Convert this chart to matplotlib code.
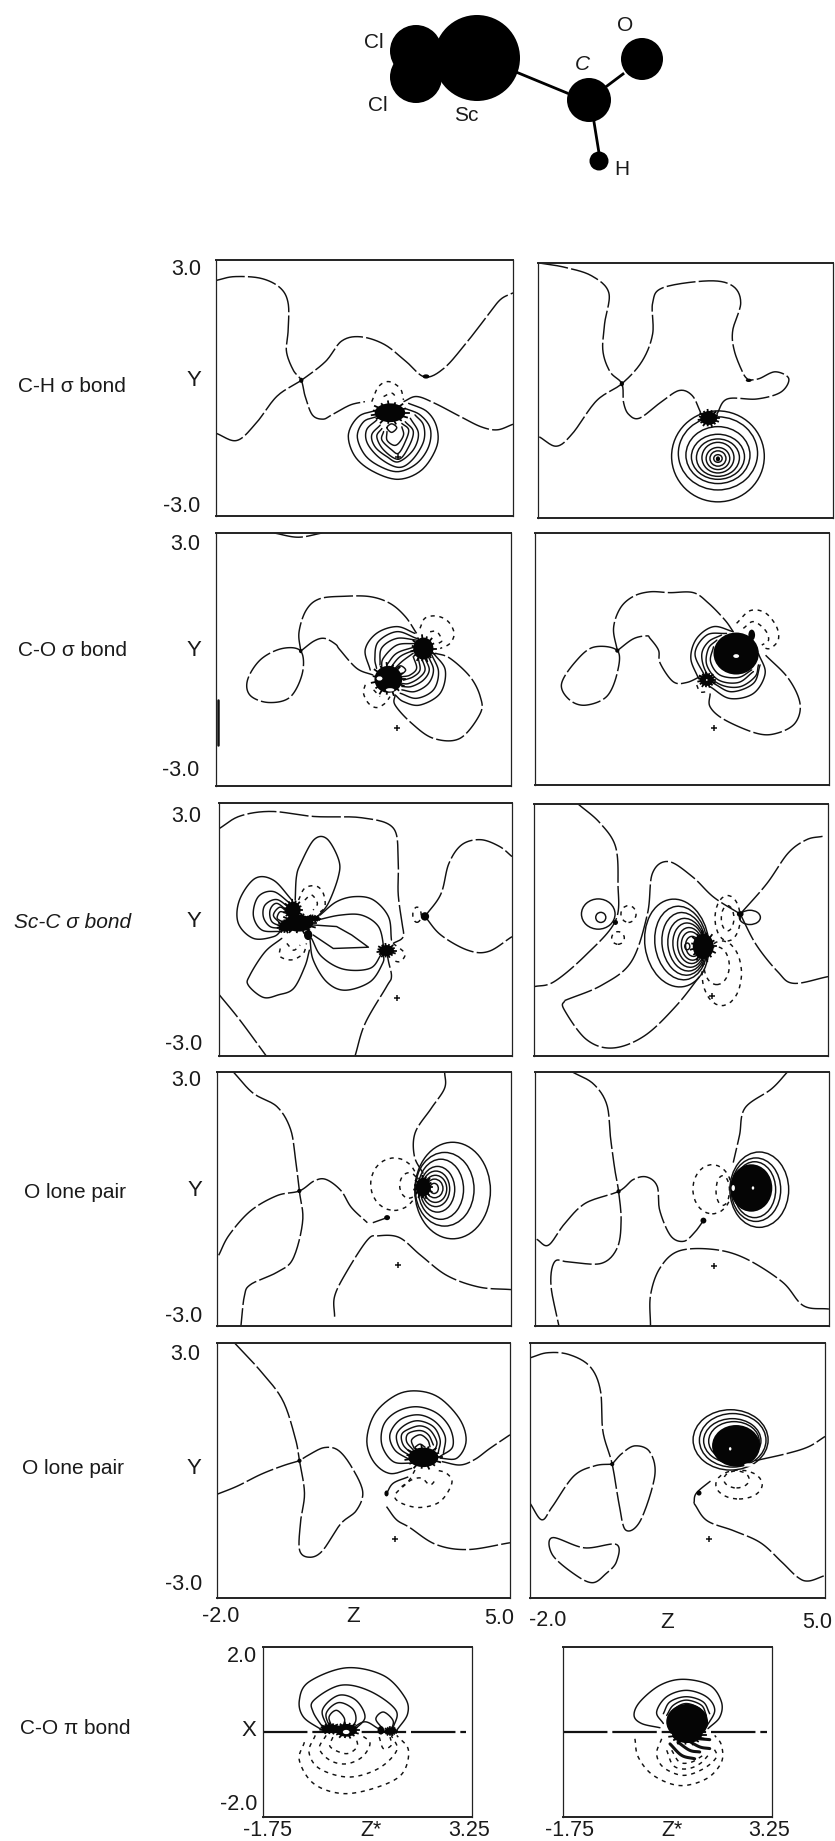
import numpy as np
import matplotlib
matplotlib.use("Agg")
import matplotlib.pyplot as plt
from matplotlib.patches import Ellipse

plt.rcParams['font.family'] = ['Liberation Sans', 'DejaVu Sans']

# ---------- values (z, y in chart units) ----------
# Rings are (z centre, y centre, semi-axis z, semi-axis y[, tilt in degrees]); blobs are (z, y, half z, half y)
A_NODAL = [
 [(-2,2.52),(-1.57,2.61),(-.94,2.57),(-.49,2.35),(-.30,1.99),(-.30,1.35),(-.34,.86),(-.18,.42),(.01,.18),(.10,-.19),(.27,-.63),(.52,-.73),(.73,-.63),(1.16,-.40),(1.51,-.32)],
 [(2.42,-.32),(2.73,-.20),(3.16,-.36),(3.76,-.67),(4.25,-.91),(4.63,-.98),(5,-.85)],
 [(-2,-1.06),(-1.51,-1.23),(-1.06,-.83),(-.56,-.19),(.01,.18),(.58,.62),(.96,1.10),(1.41,1.20),(1.97,1.02),(2.48,.62),(2.92,.26),(3.37,.46),(3.87,1.02),(4.38,1.67),(4.70,2.07),(5,2.23)],
]
A_SOLID = [
 [(1.79,-.52),(1.36,-.67),(1.12,-1.10),(1.28,-1.61),(1.71,-1.96),(2.30,-2.14),(2.85,-1.92),(3.20,-1.38),(3.20,-.91),(2.97,-.55),(2.54,-.36)],
 [(1.79,-.67),(1.48,-.79),(1.33,-1.14),(1.51,-1.57),(1.87,-1.84),(2.30,-1.96),(2.73,-1.77),(3.01,-1.38),(3.05,-.95),(2.81,-.63),(2.46,-.48)],
 [(1.79,-.75),(1.55,-.98),(1.57,-1.30),(1.87,-1.65),(2.30,-1.86),(2.62,-1.69),(2.89,-1.26),(2.89,-.87),(2.69,-.63)],
 [(1.87,-.87),(1.67,-1.10),(1.75,-1.38),(2.03,-1.61),(2.30,-1.73),(2.65,-1.45),(2.77,-1.06),(2.58,-.71)],
 [(1.91,-.95),(1.79,-1.14),(1.95,-1.45),(2.30,-1.67),(2.54,-1.38),(2.65,-1.02),(2.46,-.79)],
 [(1.95,-1.02),(1.91,-1.22),(2.14,-1.45),(2.30,-1.53),(2.46,-1.26),(2.54,-.98),(2.38,-.83)],
 [(2.03,-1.02),(2.03,-1.22),(2.18,-1.34),(2.30,-1.30),(2.42,-1.10),(2.38,-.91)],
 [(2.03,-.93),(2.14,-.84),(2.26,-.93),(2.14,-1.04),(2.03,-.93)],
]
A_DOTTED = [
 [(1.67,-.32),(1.83,.03),(2.07,.15),(2.34,-.01),(2.42,-.28)],
 [(1.95,-.2),(2.14,-.12),(2.26,-.24)],
]
A_POS = []
A_NEG = []
A_BLOB = [(2.10,-.58,.36,.22),(.01,.18,.05,.06),(2.95,.27,.08,.05)]
A_PLUS = [(2.30,-1.61)]

B_NODAL = [
 [(-1.97,3),(-1.37,2.90),(-.73,2.70),(-.32,2.30),(-.42,1.57),(-.46,.93),(-.29,.44),(-.01,.16),(.03,-.28),(.15,-.56),(.41,-.65),(.91,-.28),(1.35,0),(1.66,-.12),(1.86,-.52)],
 [(2.24,-.56),(2.49,-.20),(3.19,-.20),(3.76,-.04),(3.95,.28),(3.63,.44),(3.25,.28),(3.0,.24)],
 [(-1.97,-1.09),(-1.56,-1.31),(-1.18,-1.01),(-.61,-.24),(-.01,.16),(.47,.69),(.72,1.33),(.72,2.06),(.97,2.42),(2.05,2.58),(2.62,2.46),(2.81,2.06),(2.62,1.41),(2.66,.93),(2.87,.40),(3.0,.24)],
]
B_POS = [(2.27,-1.55,1.10,1.07),(2.27,-1.48,.94,.86),(2.27,-1.52,.76,.67),(2.27,-1.56,.63,.53),(2.27,-1.58,.51,.44),(2.27,-1.58,.38,.36),(2.27,-1.60,.28,.26),(2.27,-1.60,.19,.18),(2.27,-1.60,.10,.09)]
B_NEG = []
B_BLOB = [(2.05,-.65,.2,.16),(-.01,.16,.05,.06),(3.0,.24,.07,.04),(2.27,-1.61,.05,.06)]
B_PLUS = []

C_NODAL = [
 [(.01,.20),(-.03,.65),(.14,1.17),(.46,1.44),(1.06,1.50),(1.66,1.49),(2.13,1.33),(2.49,1.02),(2.76,.62)],
 [(.01,.20),(-.43,.26),(-.94,0),(-1.25,-.48),(-1.19,-.85),(-.75,-1.02),(-.24,-.89),(.05,-.32),(.01,.20)],
 [(.01,.20),(.33,.44),(.58,.50),(.84,.36),(.94,.23),(1.34,-.21),(1.73,-.37)],
 [(2.25,-.84),(2.25,-1.08),(2.64,-1.51),(3.16,-1.87),(3.79,-1.87),(4.27,-1.28),(4.27,-.88),(4.03,-.41),(3.55,.03),(3.2,.15)],
 [(-.62,3),(-.05,2.90),(.52,3)],
]
C_SOLID = [
 [(2.72,.62),(2.29,.78),(1.81,.62),(1.54,.23),(1.66,-.25)],
 [(2.76,.50),(2.29,.66),(1.85,.42),(1.77,.03),(1.81,-.21)],
 [(2.76,.46),(2.29,.50),(1.93,.27),(1.89,-.13)],
 [(2.72,.38),(2.29,.34),(1.97,.03),(1.93,-.21)],
 [(2.72,.30),(2.29,.15),(2.05,-.13)],
 [(2.72,.23),(2.37,.07),(2.13,-.21)],
 [(2.68,.15),(2.41,-.05),(2.21,-.25)],
 [(3.16,.15),(3.44,-.25),(3.32,-.80),(2.84,-1.08),(2.45,-1.0),(2.25,-.84)],
 [(3.12,.11),(3.28,-.29),(3.16,-.72),(2.76,-.92),(2.37,-.80)],
 [(3.04,.07),(3.16,-.25),(3.04,-.57),(2.72,-.76),(2.41,-.72)],
 [(2.96,.03),(3.06,-.25),(2.92,-.49),(2.64,-.64),(2.41,-.64)],
 [(2.88,.03),(2.96,-.25),(2.80,-.45),(2.57,-.57),(2.41,-.57)],
 [(2.80,.03),(2.84,-.25),(2.68,-.41),(2.45,-.49)],
 [(2.68,.07),(2.76,-.21),(2.60,-.37),(2.41,-.41)],
 [(2.26,-.25),(2.38,-.15),(2.50,-.25),(2.38,-.35),(2.26,-.25)],
]
C_DOTTED = [
 [(2.84,.74),(2.96,.98),(3.24,1.03),(3.51,.90),(3.65,.62),(3.55,.38),(3.32,.26)],
 [(3.08,.66),(3.24,.66),(3.36,.46),(3.28,.38)],
 [(1.54,-.6),(1.50,-.80),(1.62,-1.04),(1.81,-1.14),(2.01,-1.04),(2.13,-.88)],
 [(1.74,-.72),(1.89,-.88)],
]
C_POS = []
C_NEG = []
C_BLOB = [(2.92,.26,.24,.26),(2.09,-.47,.33,.32),(.01,.20,.04,.05)]
C_PLUS = [(2.29,-1.63)]
C_THICK = [[(-1.95,-.97),(-1.95,-2.02)]]
C_HOLE = [(1.88,-.45,.07,.05),(2.13,-.72,.1,.04)]

D_NODAL = [
 [(-.04,.20),(-.13,.73),(.03,1.21),(.34,1.49),(.74,1.60),(1.21,1.58),(1.77,1.58),(2.13,1.33),(2.52,.93),(2.72,.65)],
 [(-.04,.20),(-.61,.28),(-1.05,-.08),(-1.37,-.60),(-1.18,-.97),(-.80,-1.10),(-.29,-.89),(-.04,-.32),(-.04,.20)],
 [(-.04,.20),(.34,.48),(.66,.55),(.74,.49),(.94,.21),(.98,-.10),(1.29,-.54),(1.61,-.56),(1.97,-.40)],
 [(2.17,-.82),(2.17,-1.14),(2.52,-1.45),(3.28,-1.77),(3.75,-1.77),(4.19,-1.53),(4.31,-1.06),(4.03,-.46),(3.48,.10)],
]
D_SOLID = [
 [(2.72,.65),(2.25,.77),(1.85,.49),(1.71,.02),(1.89,-.46)],
 [(2.17,-.66),(2.64,-.94),(3.20,-.82),(3.48,-.34),(3.32,.13)],
 [(2.56,.61),(2.09,.57),(1.81,.13),(2.05,-.42)],
 [(2.25,-.58),(2.68,-.78),(3.20,-.58),(3.36,-.14)],
 [(2.44,.57),(2.13,.41),(1.97,.10),(2.09,-.34),(2.44,-.62),(2.88,-.66),(3.24,-.42),(3.32,-.14)],
 [(2.33,.45),(2.13,.25),(2.09,-.14),(2.37,-.50),(2.84,-.56),(3.20,-.30)],
 [(2.25,.29),(2.18,-.06),(2.40,-.38),(2.84,-.44),(3.16,-.26)],
]
D_DOTTED = [
 [(2.80,.85),(3.12,1.15),(3.48,1.10),(3.75,.77),(3.79,.45),(3.59,.25),(3.40,.29)],
 [(2.96,.73),(3.20,.89),(3.48,.69),(3.56,.45),(3.40,.33)],
 [(1.85,-.62),(1.93,-.78),(2.09,-.78)],
]
D_POS = []
D_NEG = []
D_BLOB = [(2.79,.13,.54,.50),(2.09,-.50,.17,.14),(3.16,.57,.08,.13),(-.04,.20,.05,.05)]
D_PLUS = [(2.26,-1.65)]
D_HOLE = [(2.79,.07,.07,.045),(2.09,-.50,.02,.02)]

E_NODAL = [
 [(-2,2.39),(-1.5,2.69),(-.75,2.80),(.27,2.68),(1.41,2.65),(2.16,2.41),(2.28,1.65),(2.28,.86),(2.36,.22),(2.40,-.17),(2.16,-.33)],
 [(2.92,.31),(3.30,.84),(3.49,1.56),(3.80,2.01),(4.25,2.13),(4.70,1.97),(5,1.73)],
 [(2.92,.31),(3.30,-.13),(3.94,-.49),(4.44,-.52),(5,-.17)],
 [(-2,-1.54),(-1.5,-2.15),(-.87,-3)],
 [(1.25,-3),(1.49,-2.23),(2.0,-1.36),(2.12,-1.12),(2.05,-.76),(2.0,-.5)],
]
E_SOLID = [
 [(-.18,.70),(-.15,1.25),(-.05,1.56),(.27,2.13),(.58,2.15),(.86,1.65),(.85,1.25),(.61,.62),(.35,.3)],
 [(-.26,.70),(-.70,1.17),(-1.14,1.21),(-1.51,.70),(-1.54,.15),(-1.18,-.21),(-.70,-.17),(-.50,-.01)],
 [(-.30,.62),(-.70,.90),(-1.06,.78),(-1.18,.34),(-.98,-.01),(-.54,-.05)],
 [(-.30,.50),(-.62,.71),(-.90,.58),(-.94,.30),(-.78,.07),(-.50,.03)],
 [(-.34,.42),(-.62,.62),(-.78,.46),(-.74,.19),(-.50,.07)],
 [(-.34,.38),(-.54,.53),(-.70,.34),(-.54,.15)],
 [(-.38,.38),(-.54,.42),(-.61,.27),(-.50,.19)],
 [(.41,.34),(.81,.66),(1.25,.78),(1.69,.70),(2.05,.30),(2.12,-.25)],
 [(.33,.22),(.89,.34),(1.41,.34),(1.81,.07),(1.93,-.41),(1.89,-.49)],
 [(.21,-.21),(.45,-.64),(.97,-.94),(1.61,-.92),(1.89,-.57)],
 [(.17,-.21),(.25,-.72),(.57,-1.24),(1.01,-1.44),(1.61,-1.24),(1.91,-.80),(1.93,-.60)],
 [(-.50,-.21),(-.90,-.53),(-1.26,-1.08),(-1.30,-1.32),(-.94,-1.61),(-.58,-1.55),(-.22,-1.40),(.05,-.88),(.16,-.49)],
]
E_STRAIGHT = [[(.21,.11),(.81,.07),(1.17,-.13),(1.57,-.42),(.73,-.45),(.25,-.13)]]
E_DOTTED = [
 [(-.10,.70),(.05,.98),(.32,1.03),(.49,.86),(.53,.54),(.37,.38)],
 [(.05,.70),(.21,.82),(.35,.62),(.25,.46)],
 [(-.54,-.45),(-.54,-.64),(-.26,-.72),(.01,-.57),(.09,-.33)],
 [(-.38,-.33),(-.22,-.49),(-.06,-.37)],
 [(2.16,-.33),(2.44,-.57),(2.32,-.76),(2.12,-.72)],
]
E_POS = []
E_NEG = [(2.73,.35,.1,.18)]
E_BLOB = [(-.23,.46,.18,.2),(-.10,.15,.35,.2),(-.42,.07,.15,.12),(.13,-.13,.1,.12),(.25,.26,.13,.06),(2.0,-.50,.18,.13),(2.92,.31,.1,.1)]
E_PLUS = [(2.26,-1.63)]

F_NODAL = [
 [(-.95,3),(-.44,2.56),(-.06,1.99),(0,1.10),(-.06,.22),(-.76,-.59),(-1.52,-1.23),(-2,-1.35)],
 [(-1.27,-1.68),(-.38,-1.31),(.32,-.75),(.70,.38),(.82,1.35),(1.20,1.63),(1.77,1.27),(2.28,.78),(2.91,.38)],
 [(-1.27,-1.68),(-1.29,-1.88),(-.76,-2.60),(-.13,-2.81),(.63,-2.52),(1.39,-1.80),(2.03,-.99)],
 [(2.91,.38),(3.54,1.10),(4.05,1.83),(4.49,2.15),(4.87,2.23)],
 [(2.91,.38),(3.29,-.35),(3.80,-.99),(4.18,-1.27),(5,-1.11)],
]
F_POS = [(1.40,-.31,.76,1.05,8),(1.50,-.31,.62,.88,8),(1.57,-.33,.52,.75,8),(1.63,-.35,.44,.63,8),(1.68,-.36,.37,.53,8),(1.72,-.37,.30,.43,8),(1.75,-.38,.24,.34,8),(1.78,-.39,.17,.24,8),(1.65,-.39,.06,.08),
         (-.47,.38,.40,.36),(-.41,.30,.12,.12),(3.14,.30,.25,.17)]
F_NEG = [(2.61,.28,.3,.54),(2.61,.28,.15,.3),(2.47,-1.03,.47,.77),(2.35,-.85,.3,.45),(.25,.38,.18,.2),(0,-.19,.15,.15)]
F_BLOB = [(2.03,-.39,.25,.3),(2.91,.38,.08,.07),(-.06,.18,.06,.06)]
F_PLUS = [(2.24,-1.56)]

G_NODAL = [
 [(-1.61,3),(-1.14,2.50),(-.57,2.18),(-.25,1.65),(-.13,.93),(-.04,.19),(.04,-.52),(-.19,-1.41),(-.57,-1.73),(-1.20,-2.02),(-1.35,-2.30),(-1.43,-3)],
 [(-1.96,-1.33),(-1.71,-.85),(-1.20,-.28),(-.57,.08),(-.04,.19),(.32,.43),(.60,.46),(.95,.20),(1.20,-.20),(1.58,-.56)],
 [(1.71,-.56),(2.05,-.44)],
 [(3.42,3),(3.42,2.62),(3.10,2.14),(2.72,1.57),(2.70,1.01),(2.91,.60)],
 [(.80,-2.78),(.80,-2.30),(1.08,-1.73),(1.58,-.97),(1.84,-.87),(2.34,-.91),(2.85,-1.33),(3.48,-1.81),(4.24,-2.08),(5,-2.14)],
]
G_POS = [(3.61,.20,.90,1.14),(3.42,.23,.70,.87),(3.33,.23,.54,.71),(3.25,.23,.41,.54),(3.21,.24,.33,.42),(3.20,.24,.27,.32),(3.18,.25,.20,.22),(3.17,.25,.10,.12)]
G_NEG = [(2.22,.35,.56,.62),(2.57,.32,.22,.30)]
G_BLOB = [(2.91,.28,.18,.22),(2.05,-.44,.07,.06),(-.04,.19,.05,.05)]
G_PLUS = [(2.30,-1.57)]

H_NODAL = [
 [(-1.11,3),(-.61,2.72),(-.29,2.23),(-.20,1.43),(-.10,.70),(-.01,.18),(.05,-.51),(-.04,-1.15),(-.42,-1.52),(-1.18,-1.49),(-1.53,-1.48),(-1.62,-2.04),(-1.43,-3)],
 [(-1.96,-.95),(-1.68,-1.09),(-1.30,-.59),(-.80,-.10),(-.01,.18),(.34,.46),(.66,.52),(.91,.30),(.97,-.27),(1.23,-.87),(1.54,-1.0),(1.80,-.79),(2.01,-.51)],
 [(4.01,3),(3.63,2.60),(3.0,2.15),(2.87,1.51),(2.72,.86)],
 [(.75,-3),(.75,-2.28),(.97,-1.64),(1.42,-1.23),(2.24,-1.19),(3.0,-1.40),(3.89,-1.96),(4.39,-2.52),(5,-2.60)],
]
H_POS = [(3.34,.22,.70,.89),(3.26,.22,.59,.75),(3.23,.22,.5,.66)]
H_NEG = [(2.22,.23,.46,.58),(2.47,.20,.16,.35)]
H_BLOB = [(3.15,.26,.5,.56),(2.01,-.51,.07,.07),(-.01,.18,.05,.05)]
H_PLUS = [(2.27,-1.58)]
H_HOLE = [(3.19,.26,.03,.04),(2.72,.26,.04,.07)]

I_NODAL = [
 [(-1.58,3),(-.95,2.33),(-.43,1.65),(-.13,.76),(-.03,.23),(.09,-.53),(0,-1.18),(-.03,-1.86),(.19,-2.04),(.51,-1.90),(.95,-1.26),(1.33,-.94),(1.48,-.49),(1.20,.11),(.89,.48),(.57,.54),(.25,.40),(-.03,.23)],
 [(-2,-.56),(-1.52,-.37),(-.95,-.09),(-.43,.11),(-.03,.23)],
 [(2.57,-.15),(2.21,-.30),(2.05,-.54)],
 [(2.05,-.85),(2.29,-1.16),(2.60,-1.34),(3.23,-1.74),(3.99,-1.86),(5,-1.70)],
 [(3.37,.21),(3.81,.13),(4.16,.26),(4.52,.52),(5,.84)],
]
I_SOLID = [
 [(2.65,.05),(2.13,-.07),(1.74,.21),(1.58,.72),(1.78,1.35),(2.29,1.78),(2.81,1.87),(3.33,1.70),(3.81,1.19),(3.95,.68),(3.73,.29),(3.33,.29)],
 [(2.65,.17),(2.21,.21),(1.94,.60),(1.98,1.07),(2.29,1.38),(2.77,1.50),(3.25,1.35),(3.57,.99),(3.63,.56),(3.33,.33)],
 [(2.61,.25),(2.25,.48),(2.13,.84),(2.37,1.19),(2.81,1.31),(3.21,1.15),(3.45,.80),(3.41,.40)],
 [(2.65,.33),(2.37,.52),(2.29,.84),(2.49,1.07),(2.81,1.17),(3.17,1.03),(3.33,.72),(3.29,.44)],
 [(2.65,.40),(2.45,.60),(2.41,.84),(2.57,.97),(2.85,1.05),(3.09,.95),(3.25,.68),(3.21,.48)],
 [(2.69,.48),(2.53,.68),(2.57,.87),(2.85,.94),(3.05,.84),(3.17,.60)],
 [(2.71,.52),(2.65,.72),(2.85,.84),(3.03,.72),(3.09,.56)],
 [(2.73,.55),(2.85,.62),(2.97,.55)],
]
I_DOTTED = [
 [(2.73,.01),(2.57,-.26),(2.25,-.58),(2.41,-.77),(2.85,-.87),(3.33,-.73),(3.61,-.30),(3.49,-.07),(3.25,.01)],
 [(2.41,-.38),(2.65,-.22),(2.89,-.18),(3.09,-.34),(3.25,-.18)],
]
I_POS = []
I_NEG = []
I_BLOB = [(2.93,.31,.36,.23),(2.05,-.54,.05,.07),(-.03,.23,.05,.05)]
I_PLUS = [(2.25,-1.60)]

J_NODAL = [
 [(-2,2.65),(-1.59,2.77),(-1.08,2.73),(-.58,2.45),(-.33,1.89),(-.27,.92),(-.05,.15),(.11,-.77),(.27,-1.40),(.62,-1.18),(.96,-.13),(.84,.44),(.49,.58),(.18,.40),(-.05,.15)],
 [(-2,-.77),(-1.72,-1.16),(-1.47,-.85),(-.96,-.13),(-.46,.11),(-.05,.15)],
 [(-1.47,-1.58),(-.71,-1.82),(.05,-1.74),(.05,-2.15),(-.20,-2.43),(-.52,-2.64),(-.96,-2.43),(-1.47,-1.98),(-1.47,-1.58)],
 [(1.89,-.77),(2.20,-1.18),(2.84,-1.42),(3.47,-1.70),(3.97,-2.15),(4.35,-2.51),(4.61,-2.60),(5,-2.47)],
 [(1.89,-.77),(1.95,-.53),(2.33,-.21)],
 [(3.34,.23),(4.10,.40),(4.61,.56),(5,.80)],
]
J_POS = [(2.76,.72,.89,.71),(2.81,.71,.79,.63),(2.80,.70,.68,.52),(2.84,.69,.60,.46)]
J_NEG = [(2.96,-.33,.55,.34),(2.90,-.21,.3,.2)]
J_BLOB = [(2.89,.58,.57,.49),(2.01,-.53,.06,.06),(-.05,.15,.05,.05)]
J_PLUS = [(2.24,-1.60)]
J_HOLE = [(2.75,.51,.03,.04),(3.2,.13,.12,.04)]

K_NODAL = [[(-1.75,0),(3.11,0)]]
K_SOLID = [
 [(-.33,.04),(-.78,.35),(-.88,.75),(-.65,1.18),(.24,1.51),(1.13,1.33),(1.64,.82),(1.71,.43),(1.45,.04)],
 [(-.27,.04),(-.55,.47),(-.53,.75),(.11,1.10),(.81,.96),(1.43,.51),(1.36,.08)],
 [(-.17,.04),(-.33,.51),(.05,.86),(.47,.75),(.69,.35),(.43,.04)],
 [(-.12,.04),(-.24,.43),(.05,.69),(.39,.55),(.47,.27),(.30,.04)],
 [(-.08,.08),(-.17,.35),(.01,.51),(.20,.31),(.14,.08)],
 [(1.11,.08),(.95,.31),(1.13,.47),(1.36,.27),(1.32,.04)],
 [(.37,.08),(.69,.24),(1.01,.08)],
]
K_DOTTED = [
 [(-.76,-.24),(-.88,-.67),(-.53,-1.22),(.18,-1.45),(1.01,-1.29),(1.58,-.98),(1.73,-.43),(1.45,-.08)],
 [(-.50,-.08),(-.65,-.47),(-.40,-.86),(.30,-1.06),(1.01,-.86),(1.45,-.43),(1.32,-.08)],
 [(-.24,-.08),(-.40,-.39),(-.14,-.67),(.24,-.75),(.62,-.59),(.81,-.27),(.62,-.08)],
 [(-.08,-.12),(-.14,-.35),(.24,-.51),(.50,-.35),(.47,-.12)],
 [(1.03,-.12),(1.13,-.39),(1.32,-.31),(1.29,-.12)],
]
K_BLOB = [(-.14,.08,.2,.1),(.24,.04,.25,.15),(1.07,.04,.08,.1),(1.30,.02,.12,.08)]
K_HOLE = [(.24,.0,.08,.05)]

L_NODAL = [[(-1.75,0),(3.12,0)]]
L_SOLID = [
 [(.57,.10),(.13,.20),(-.05,.39),(.09,.71),(.57,1.10),(1.12,1.24),(1.76,1.10),(2.04,.71),(2.0,.35),(1.72,.08)],
 [(.65,.20),(.49,.47),(.73,.83),(1.2,.98),(1.68,.83),(1.88,.51),(1.68,.12)],
 [(.65,.43),(.81,.71),(1.2,.83),(1.6,.71),(1.76,.43)],
 [(.73,.39),(.89,.63),(1.2,.75),(1.56,.63),(1.68,.39)],
 [(.77,.28),(.93,.55),(1.2,.67),(1.52,.55),(1.64,.31)],
]
L_POS = []
L_BLOB = [(1.22,.24,.5,.42),(1.22,-.06,.36,.2)]
L_DOTTED = [
 [(-.03,-.16),(.05,-.59),(.41,-1.02),(1.04,-1.26),(1.68,-1.10),(2.04,-.71),(2.04,-.31),(1.88,-.08)],
 [(.61,-.16),(.49,-.51),(.65,-.83),(1.12,-1.02),(1.6,-.87),(1.92,-.59),(1.84,-.35)],
 [(.73,-.43),(.89,-.79),(1.2,-.87),(1.52,-.75),(1.76,-.51)],
 [(.85,-.43),(1.04,-.71),(1.32,-.71),(1.6,-.55)],
]
L_THICK = [
 [(.81,-.28),(1.09,-.55),(1.4,-.63)],
 [(1.0,-.24),(1.28,-.43),(1.52,-.47)],
 [(1.24,-.2),(1.52,-.35),(1.76,-.39)],
 [(1.52,-.16),(1.76,-.18)],
]

# row labels and axis numbers
ROW_LABELS = ["C-H σ bond", "C-O σ bond", "Sc-C σ bond", "O lone pair", "O lone pair", "C-O π bond"]
Y_TOP_TICK = "3.0"
Y_BOTTOM_TICK = "-3.0"
Z_TICKS = ["-2.0", "Z", "5.0"]
PI_X_TICKS = ["2.0", "-2.0"]
PI_Z_TICKS = ["-1.75", "Z*", "3.25"]
ATOMS = ["Cl", "Cl", "Sc", "C", "O", "H"]

# ---------- layout (pixels of the 835x1841 figure) ----------
W, H = 835, 1841
fig = plt.figure(figsize=(W / 100, H / 100), dpi=100)

def axes_px(l, t, r, b, xlim, ylim):
    ax = fig.add_axes([l / W, 1 - b / H, (r - l) / W, (b - t) / H])
    ax.set_xlim(*xlim); ax.set_ylim(*ylim)
    ax.set_xticks([]); ax.set_yticks([])
    ax.spines['top'].set_linewidth(1.4); ax.spines['bottom'].set_linewidth(1.4)
    ax.spines['left'].set_linewidth(.9); ax.spines['right'].set_linewidth(.9)
    for s in ax.spines.values():
        s.set_color('#222222')
    return ax

def smooth(pts, n=14):
    p = np.asarray(pts, float)
    if len(p) < 3:
        return p
    closed = np.allclose(p[0], p[-1])
    if closed:
        q = np.vstack([p[-2], p, p[1]])
    else:
        q = np.vstack([2 * p[0] - p[1], p, 2 * p[-1] - p[-2]])
    out = []
    t = np.linspace(0, 1, n, endpoint=False)[:, None]
    for i in range(1, len(q) - 2):
        a, b, c, d = q[i - 1], q[i], q[i + 1], q[i + 2]
        out.append(.5 * (2 * b + (c - a) * t + (2 * a - 5 * b + 4 * c - d) * t ** 2 + (3 * b - a - 3 * c + d) * t ** 3))
    out.append(p[-1:])
    return np.vstack(out)

LW = 1.05
DASH = (0, (20, 2.2))
DOT = (0, (2.8, 3.2))

def lines(ax, curves, ls='-', lw=LW, smoothed=True):
    for c in curves:
        s = smooth(c) if smoothed else np.asarray(c, float)
        ax.plot(s[:, 0], s[:, 1], color='#111111', lw=lw, ls=ls, solid_capstyle='round')

def rings(ax, items, ls='-'):
    for it in items:
        z, y, a, b = it[:4]
        tilt = it[4] if len(it) > 4 else 0
        ax.add_patch(Ellipse((z, y), 2 * a, 2 * b, angle=tilt, fill=False, ec='#111111', lw=LW, ls=ls))

def blobs(ax, items, color='#050505', spokes=True):
    for z, y, a, b in items:
        ax.add_patch(Ellipse((z, y), 2 * a, 2 * b, fc=color, ec='none', zorder=4))
        if spokes and 0.12 <= a <= .4:
            th = np.deg2rad(np.arange(0, 360, 24))
            k = np.where(np.arange(len(th)) % 2 == 0, 1.22, 1.08)
            for ti, ki in zip(th, k):
                ax.plot([z, z + ki * a * np.cos(ti)], [y, y + ki * b * np.sin(ti)], color=color, lw=1.3, zorder=4)

def plus(ax, items):
    for z, y in items:
        ax.plot([z], [y], marker='+', ms=4.5, mew=1.1, color='#111111')

UP = ((-2, 5), (-3, 3))
PI = ((-1.75, 3.25), (-2, 2))
PANELS = [
 ((216, 260, 513, 516), UP, A_NODAL, A_POS, A_NEG, A_BLOB, A_PLUS),
 ((538, 263, 833, 518), UP, B_NODAL, B_POS, B_NEG, B_BLOB, B_PLUS),
 ((216, 533, 511, 786), UP, C_NODAL, C_POS, C_NEG, C_BLOB, C_PLUS),
 ((535, 533, 829, 785), UP, D_NODAL, D_POS, D_NEG, D_BLOB, D_PLUS),
 ((219, 803, 512, 1056), UP, E_NODAL, E_POS, E_NEG, E_BLOB, E_PLUS),
 ((534, 804, 828, 1056), UP, F_NODAL, F_POS, F_NEG, F_BLOB, F_PLUS),
 ((217, 1072, 511, 1326), UP, G_NODAL, G_POS, G_NEG, G_BLOB, G_PLUS),
 ((535, 1072, 829, 1326), UP, H_NODAL, H_POS, H_NEG, H_BLOB, H_PLUS),
 ((217, 1343, 510, 1598), UP, I_NODAL, I_POS, I_NEG, I_BLOB, I_PLUS),
 ((530, 1343, 825, 1598), UP, J_NODAL, J_POS, J_NEG, J_BLOB, J_PLUS),
 ((263, 1647, 472, 1817), PI, K_NODAL, [], [], K_BLOB, []),
 ((563, 1647, 772, 1817), PI, L_NODAL, L_POS, [], L_BLOB, []),
]
axs = []
for box, lims, nodal, pos, neg, blob, pl in PANELS:
    ax = axes_px(*box, *lims)
    wide = lims is PI
    lines(ax, nodal, ls=DASH, lw=1.6 if wide else LW)
    rings(ax, pos)
    rings(ax, neg, ls=DOT)
    blobs(ax, blob)
    plus(ax, pl)
    axs.append(ax)

lines(axs[0], A_SOLID)
lines(axs[0], A_DOTTED, ls=DOT)
lines(axs[2], C_SOLID)
lines(axs[2], C_DOTTED, ls=DOT)
lines(axs[2], C_THICK, lw=1.8, smoothed=False)
blobs(axs[2], C_HOLE, '#ffffff', False)
lines(axs[3], D_SOLID)
lines(axs[3], D_DOTTED, ls=DOT)
blobs(axs[3], D_HOLE, '#ffffff', False)
lines(axs[4], E_SOLID)
lines(axs[4], E_STRAIGHT, smoothed=False)
lines(axs[4], E_DOTTED, ls=DOT)
blobs(axs[7], H_HOLE, '#ffffff', False)
lines(axs[8], I_SOLID)
lines(axs[8], I_DOTTED, ls=DOT)
blobs(axs[9], J_HOLE, '#ffffff', False)
lines(axs[10], K_SOLID)
lines(axs[10], K_DOTTED, ls=DOT)
blobs(axs[10], K_HOLE, '#ffffff', False)
lines(axs[11], L_SOLID)
lines(axs[11], L_DOTTED, ls=DOT)
lines(axs[11], L_THICK, lw=2.2)

# ---------- overlay: molecule sketch and all labels, in figure pixels ----------
ov = fig.add_axes([0, 0, 1, 1], zorder=10)
ov.set_xlim(0, W); ov.set_ylim(H, 0); ov.axis('off'); ov.patch.set_alpha(0)

ATOM_X = [416, 416, 477, 589, 642, 599]
ATOM_Y = [51, 77, 58, 100, 59, 161]
ATOM_R = [26, 26, 43, 22, 21, 9.5]
for x, y, r in zip(ATOM_X, ATOM_Y, ATOM_R):
    ov.add_patch(plt.Circle((x, y), r, fc='black', ec='none'))
BOND_X = [(516, 567), (607, 623), (594, 599)]
BOND_Y = [(72, 93), (86, 74), (122, 153)]
for bx, by in zip(BOND_X, BOND_Y):
    ov.plot(bx, by, color='black', lw=2.0)

def t(x, y, s, size=13, **kw):
    ov.text(x, y, s, fontsize=size, ha='center', va='center', color='#1a1a1a', **kw)

ATOM_LABEL_X = [374, 378, 466, 582, 625, 622]
ATOM_LABEL_Y = [42, 105, 115, 64, 25, 169]
for x, y, s in zip(ATOM_LABEL_X, ATOM_LABEL_Y, ATOMS):
    t(x, y, s, 15, style='italic' if s == 'C' else 'normal')

ROW_X = [72, 72, 73, 75, 73, 75]
ROW_Y = [386, 651, 922, 1193, 1468, 1729]
for x, y, s in zip(ROW_X, ROW_Y, ROW_LABELS):
    t(x, y, s, 15, style='italic' if s.startswith('Sc') else 'normal')

TOP_X = [186, 185, 186, 186, 185]
TOP_Y = [269, 544, 816, 1080, 1355]
BOT_X = [182, 181, 184, 184, 184]
BOT_Y = [506, 771, 1045, 1316, 1584]
LET_X = [194, 194, 194, 195, 194]
LET_Y = [380, 651, 921, 1190, 1468]
for x, y in zip(TOP_X, TOP_Y):
    t(x, y, Y_TOP_TICK, 15.5)
for x, y in zip(BOT_X, BOT_Y):
    t(x, y, Y_BOTTOM_TICK, 15.5)
for x, y in zip(LET_X, LET_Y):
    t(x, y, 'Y', 16)

for xs, ys in (([221, 353, 499], [1617, 1617, 1619]), ([548, 667, 817], [1621, 1622, 1623])):
    for x, y, s in zip(xs, ys, Z_TICKS):
        t(x, y, s, 16 if s == 'Z' else 15.5)
for xs in ([268, 371, 469], [570, 672, 769]):
    for x, s in zip(xs, PI_Z_TICKS):
        t(x, 1831, s, 15.5)
t(242, 1656, PI_X_TICKS[0], 15.5)
t(239, 1804, PI_X_TICKS[1], 15.5)
t(249, 1730, 'X', 16)

fig.savefig('out.png', dpi=100, facecolor='white')
